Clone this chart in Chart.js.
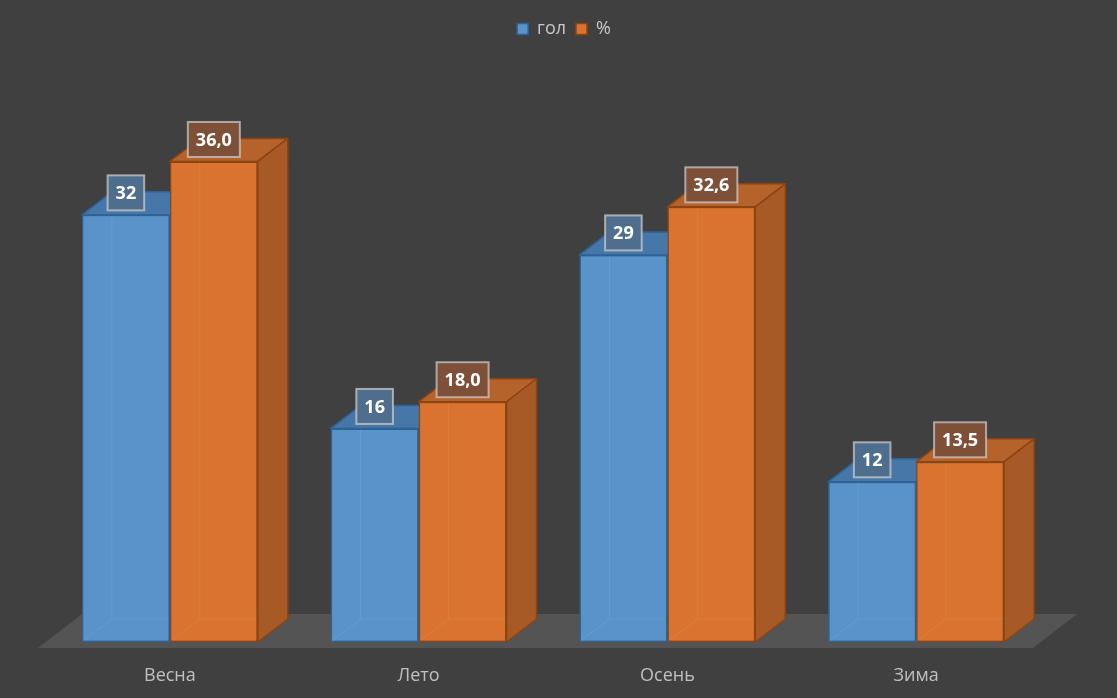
<!DOCTYPE html>
<html>
<head>
<meta charset="utf-8">
<script src="https://cdn.jsdelivr.net/npm/chart.js@4.4.1/dist/chart.umd.min.js"></script>
<style>
  html, body { margin: 0; padding: 0; background: #404040; }
  #wrap { width: 1117px; height: 698px; }
</style>
</head>
<body>
<div id="wrap"><canvas id="chart"></canvas></div>
<script>
const seasons = ["Весна", "Лето", "Осень", "Зима"];
const golValues = [32, 16, 29, 12];
const pctValues = [36.0, 18.0, 32.6, 13.5];
const seriesNames = ["гол", "%"];

// 3d look
const DEPTH_X = 30, DEPTH_Y = -23;
const faces = [
    { front: "#5a93c9", top: "#4677a8", side: "#3f6d9b", edge: "#2f6295", label: "#4f6e8e" },
    { front: "#d9732f", top: "#b5622b", side: "#a85a26", edge: "#8c4512", label: "#7e5037" },
];

function fmtValue(ds, v) {
    return ds === 0 ? String(v) : v.toFixed(1).replace(".", ",");
}

const floorPlugin = {
    id: "floor",
    beforeDatasetsDraw(chart) {
        const { ctx, chartArea, scales } = chart;
        const base = scales.y.getPixelForValue(0) + 6;
        ctx.save();
        ctx.fillStyle = "#545454";
        ctx.beginPath();
        ctx.moveTo(chartArea.left - 7.5, base);
        ctx.lineTo(chartArea.left - 7.5 + 44, base - 34);
        ctx.lineTo(chartArea.right - 7.5 + 44, base - 34);
        ctx.lineTo(chartArea.right - 7.5, base);
        ctx.closePath();
        ctx.fill();
        ctx.restore();
    },
};

function drawBox(ctx, bar, f) {
    const left = bar.x - bar.width / 2;
    const right = bar.x + bar.width / 2;
    const top = bar.y, base = bar.base;
    ctx.save();
    // faint hidden edges seen through the front
    ctx.strokeStyle = "rgba(255,255,255,0.08)";
    ctx.lineWidth = 1;
    ctx.beginPath();
    ctx.moveTo(left + 1, base - 1);
    ctx.lineTo(left + DEPTH_X, base + DEPTH_Y);
    ctx.lineTo(right - 1, base + DEPTH_Y);
    ctx.moveTo(left + DEPTH_X, base + DEPTH_Y);
    ctx.lineTo(left + DEPTH_X, top + 1);
    ctx.stroke();

    ctx.strokeStyle = f.edge;
    ctx.lineWidth = 1.5;
    ctx.lineJoin = "round";
    // top face
    ctx.fillStyle = f.top;
    ctx.beginPath();
    ctx.moveTo(left, top);
    ctx.lineTo(left + DEPTH_X, top + DEPTH_Y);
    ctx.lineTo(right + DEPTH_X, top + DEPTH_Y);
    ctx.lineTo(right, top);
    ctx.closePath();
    ctx.fill();
    ctx.stroke();
    // side face
    ctx.fillStyle = f.side;
    ctx.beginPath();
    ctx.moveTo(right, top);
    ctx.lineTo(right + DEPTH_X, top + DEPTH_Y);
    ctx.lineTo(right + DEPTH_X, base + DEPTH_Y);
    ctx.lineTo(right, base);
    ctx.closePath();
    ctx.fill();
    ctx.stroke();
    ctx.restore();
}

// chart.js paints the last dataset first; repaint left-to-right so the
// orange fronts hide the blue side faces
const boxPlugin = {
    id: "box3d",
    afterDatasetsDraw(chart) {
        const ctx = chart.ctx;
        chart.data.datasets.forEach((ds, di) => {
            chart.getDatasetMeta(di).data.forEach(bar => {
                bar.draw(ctx, chart.chartArea);
                drawBox(ctx, bar, faces[di]);
            });
        });
    },
};

const labelPlugin = {
    id: "valueBoxes",
    afterDatasetsDraw(chart) {
        const ctx = chart.ctx;
        ctx.save();
        ctx.font = "bold 18px 'Open Sans', sans-serif";
        ctx.textAlign = "center";
        ctx.textBaseline = "middle";
        chart.data.datasets.forEach((ds, di) => {
            chart.getDatasetMeta(di).data.forEach((bar, i) => {
                const txt = fmtValue(di, ds.data[i]);
                const w = ctx.measureText(txt).width + 16;
                const h = 35;
                const cx = bar.x, cy = bar.y - 22;
                ctx.fillStyle = faces[di].label;
                ctx.fillRect(cx - w / 2, cy - h / 2, w, h);
                ctx.strokeStyle = "rgba(210,210,210,0.7)";
                ctx.lineWidth = 2;
                ctx.strokeRect(cx - w / 2, cy - h / 2, w, h);
                ctx.fillStyle = "#ffffff";
                ctx.fillText(txt, cx, cy + 1);
            });
        });
        ctx.restore();
    },
};

new Chart(document.getElementById("chart"), {
    type: "bar",
    data: {
        labels: seasons,
        datasets: [
            {
                label: seriesNames[0],
                data: golValues,
                backgroundColor: faces[0].front,
                borderColor: faces[0].edge,
                borderWidth: 1.5,
                borderSkipped: false,
            },
            {
                label: seriesNames[1],
                data: pctValues,
                backgroundColor: faces[1].front,
                borderColor: faces[1].edge,
                borderWidth: 1.5,
                borderSkipped: false,
            },
        ],
    },
    options: {
        responsive: true,
        maintainAspectRatio: false,
        animation: false,
        categoryPercentage: 0.707,
        barPercentage: 1,
        layout: { padding: { top: 10, bottom: 0, left: 11, right: 0 } },
        plugins: {
            legend: {
                position: "top",
                labels: {
                    color: "#c8c8c8",
                    font: { size: 18, family: "'Open Sans', sans-serif" },
                    boxWidth: 11,
                    boxHeight: 11,
                    padding: 10,
                },
            },
            tooltip: { enabled: false },
        },
        scales: {
            x: {
                grid: { display: false, drawTicks: false },
                border: { display: false },
                ticks: {
                    color: "#c0c0c0",
                    font: { size: 18, family: "'Open Sans', sans-serif" },
                    padding: 23,
                },
                afterFit(scale) { scale.height = 56; },
            },
            y: {
                position: "left",
                min: 0,
                max: 44.5,
                grid: { display: false, drawTicks: false },
                border: { display: false },
                ticks: { display: false },
                afterFit(scale) { scale.width = 34.5; },
            },
            yRight: {
                position: "right",
                min: 0,
                max: 44.5,
                grid: { display: false, drawTicks: false },
                border: { display: false },
                ticks: { display: false },
                afterFit(scale) { scale.width = 76.5; },
            },
        },
    },
    plugins: [floorPlugin, boxPlugin, labelPlugin],
});
</script>
</body>
</html>
